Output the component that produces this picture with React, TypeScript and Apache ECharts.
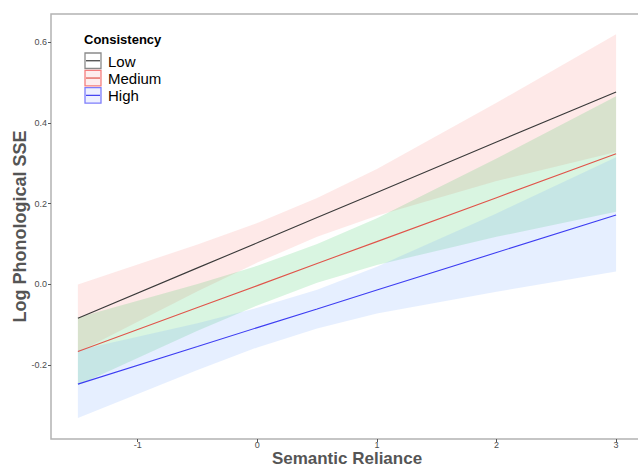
import React, { useEffect, useRef } from "react";
import * as echarts from "echarts";

// Semantic Reliance values at which the fitted effects are read
const xs = [-1.5, -0.5, 0, 0.5, 1, 2, 3];

// Consistency levels
const levels = ["Low", "Medium", "High"];

// Fitted Log Phonological SSE
const lowFit = [-0.084, 0.041, 0.103, 0.166, 0.228, 0.353, 0.477];
const mediumFit = [-0.166, -0.057, -0.003, 0.052, 0.106, 0.215, 0.324];
const highFit = [-0.247, -0.154, -0.107, -0.061, -0.014, 0.079, 0.172];

// Confidence band limits
const lowUpper = [0.0, 0.099, 0.152, 0.214, 0.286, 0.45, 0.62];
const lowLower = [-0.168, -0.017, 0.054, 0.118, 0.17, 0.256, 0.328];
const mediumUpper = [-0.082, 0.001, 0.046, 0.1, 0.164, 0.312, 0.466];
const mediumLower = [-0.25, -0.115, -0.052, 0.004, 0.048, 0.118, 0.18];
const highUpper = [-0.163, -0.096, -0.058, -0.013, 0.044, 0.176, 0.315];
const highLower = [-0.331, -0.212, -0.156, -0.109, -0.072, -0.018, 0.032];

// Axis ticks
const xTicks = [-1, 0, 1, 2, 3];
const yTicks = [-0.2, 0.0, 0.2, 0.4, 0.6];

const lineColors = ["#3a3a3a", "#e0544a", "#3d3df2"];
const bandColors = [
  "rgba(248,118,109,0.16)",
  "rgba(0,186,56,0.15)",
  "rgba(97,156,255,0.16)",
];
const keyStroke = ["#8a8a8a", "#f47e7e", "#7d7dfb"];
const keyFill = ["#ffffff", "#fdeeee", "#eef0ff"];

const FONT = "'Liberation Sans', Arial, sans-serif";

function bandSeries(name: string, lower: number[], upper: number[], color: string) {
  const data = xs.map((x, i) => [x, lower[i], upper[i]]);
  return {
    type: "custom",
    name,
    data,
    silent: true,
    z: 1,
    encode: { x: 0, y: [1, 2] },
    renderItem: (params: any, api: any) => {
      if (params.dataIndex !== 0) return null;
      const pts: number[][] = [];
      for (let i = 0; i < data.length; i++) pts.push(api.coord([data[i][0], data[i][2]]));
      for (let i = data.length - 1; i >= 0; i--) pts.push(api.coord([data[i][0], data[i][1]]));
      return {
        type: "polygon",
        shape: { points: pts },
        style: { fill: color, stroke: null },
      };
    },
  };
}

function lineSeries(name: string, ys: number[], color: string) {
  return {
    type: "line",
    name,
    data: xs.map((x, i) => [x, ys[i]]),
    symbol: "none",
    silent: true,
    z: 3,
    lineStyle: { color, width: 1.1 },
  };
}

export default function App() {
  const ref = useRef<HTMLDivElement>(null);
  useEffect(() => {
    if (!ref.current) return;
    const chart = echarts.init(ref.current, null, { renderer: "svg" });
    const fits = [lowFit, mediumFit, highFit];
    const uppers = [lowUpper, mediumUpper, highUpper];
    const lowers = [lowLower, mediumLower, highLower];

    const legendGraphics: any[] = [
      {
        type: "text",
        left: 84,
        top: 33,
        style: {
          text: "Consistency",
          font: `bold 13px ${FONT}`,
          fill: "#000",
        },
      },
    ];
    levels.forEach((lv, i) => {
      const y0 = 53 + i * 17.3;
      legendGraphics.push({
        type: "rect",
        shape: { x: 85, y: y0, width: 16, height: 15.5 },
        style: { fill: keyFill[i], stroke: keyStroke[i], lineWidth: 1.3 },
      });
      legendGraphics.push({
        type: "line",
        shape: { x1: 86, y1: y0 + 7.75, x2: 100, y2: y0 + 7.75 },
        style: { stroke: lineColors[i], lineWidth: 1.2 },
      });
      legendGraphics.push({
        type: "text",
        x: 108,
        y: y0 + 8,
        style: {
          text: lv,
          font: `15px ${FONT}`,
          fill: "#000",
          verticalAlign: "middle",
        },
      });
    });

    const axisLabelBase = {
      fontFamily: FONT,
      fontSize: 9,
      color: "#4d4d4d",
      margin: 1.5,
      lineHeight: 8,
      showMinLabel: false,
      showMaxLabel: false,
    };
    const nameStyle = {
      fontFamily: FONT,
      fontWeight: "bold",
      fontSize: 18,
      color: "#555555",
    };

    const option: any = {
      animation: false,
      backgroundColor: "#ffffff",
      grid: {
        left: 51,
        top: 14,
        right: -5,
        bottom: 28,
        show: true,
        borderColor: "#b3b3b3",
        borderWidth: 1.5,
        backgroundColor: "transparent",
        containLabel: false,
        outerBoundsMode: "none",
      },
      xAxis: {
        type: "value",
        min: -1.725,
        max: 3.225,
        splitNumber: 5,
        name: "Semantic Reliance",
        nameLocation: "middle",
        nameGap: 12.5,
        nameMoveOverlap: false,
        nameTextStyle: { ...nameStyle, fontSize: 17, lineHeight: 13 },
        axisLine: { show: false, onZero: false },
        axisTick: { show: true, length: 3, lineStyle: { color: "#555" } },
        splitLine: { show: false },
        axisLabel: {
          ...axisLabelBase,
          formatter: (v: number) =>
            xTicks.some((t) => Math.abs(t - v) < 1e-6) ? String(Math.round(v)) : "",
        },
      },
      yAxis: {
        type: "value",
        min: -0.383,
        max: 0.67,
        splitNumber: 5,
        name: "Log Phonological SSE",
        nameLocation: "middle",
        nameGap: 22,
        nameMoveOverlap: false,
        nameTextStyle: { ...nameStyle, lineHeight: 18 },
        axisLine: { show: false, onZero: false },
        axisTick: { show: true, length: 3, lineStyle: { color: "#555" } },
        splitLine: { show: false },
        axisLabel: {
          ...axisLabelBase,
          margin: 4,
          lineHeight: 9,
          formatter: (v: number) =>
            yTicks.some((t) => Math.abs(t - v) < 1e-6) ? v.toFixed(1) : "",
        },
      },
      graphic: legendGraphics,
      series: [
        ...levels.map((lv, i) => bandSeries(lv + " band", lowers[i], uppers[i], bandColors[i])),
        ...levels.map((lv, i) => lineSeries(lv, fits[i], lineColors[i])),
      ],
    };
    chart.setOption(option);
    return () => chart.dispose();
  }, []);

  return (
    <div
      ref={ref}
      style={{ position: "fixed", left: 0, top: 0, width: 638, height: 467, background: "#fff" }}
    />
  );
}
